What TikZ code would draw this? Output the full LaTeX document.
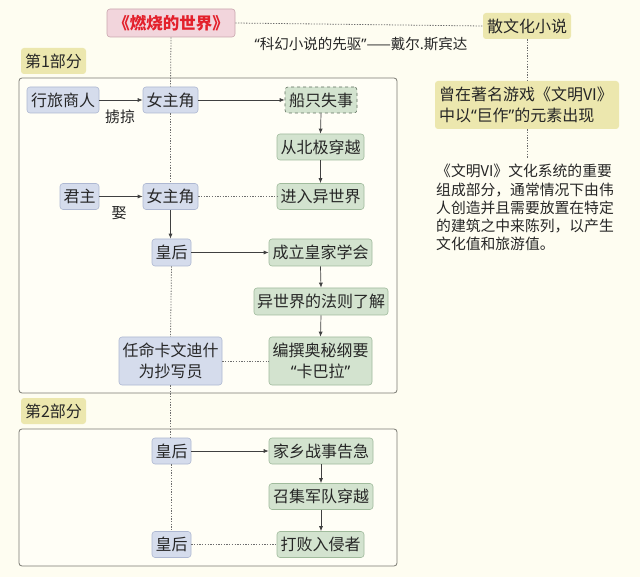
\documentclass[tikz,border=0pt]{standalone}
\usepackage{fontspec}
\setmainfont{Noto Sans CJK SC}
\newfontfamily\latinq{Noto Sans}
\newcommand{\myLq}{{\latinq “}}
\newcommand{\myRq}{{\latinq ”}}
\usetikzlibrary{arrows.meta}
\definecolor{bg}{HTML}{FEFDF1}
\definecolor{framef}{HTML}{FFFEF6}
\definecolor{framec}{HTML}{7A7A72}
\definecolor{bluef}{HTML}{D5DCEC}
\definecolor{blueb}{HTML}{AEB8D2}
\definecolor{greenf}{HTML}{D3E3CF}
\definecolor{greenb}{HTML}{A0BB9C}
\definecolor{khakif}{HTML}{ECE7AE}
\definecolor{pinkf}{HTML}{F2D5DC}
\definecolor{pinkb}{HTML}{C9A6AE}
\definecolor{titlered}{HTML}{E3202B}
\definecolor{txt}{HTML}{262626}
\definecolor{linec}{HTML}{404040}
\definecolor{dotc}{HTML}{6E6E6E}
\begin{document}
\begin{tikzpicture}[x=1pt,y=-1pt,
  base/.style={rounded corners=3pt, inner xsep=3pt, inner ysep=2pt, minimum height=26pt,
    font=\fontsize{16}{21}\selectfont, text=txt, line width=0.6pt, align=center},
  bluebox/.style={base, fill=bluef, draw=blueb},
  greenbox/.style={base, fill=greenf, draw=greenb},
  khakibox/.style={base, fill=khakif, draw=none},
  lbl/.style={font=\fontsize{15}{17}\selectfont, text=txt, inner sep=0pt},
  arr/.style={-{Latex[length=5pt,width=4pt]}, draw=linec, line width=0.7pt},
  dotline/.style={draw=dotc, line width=0.8pt, dash pattern=on 1.3pt off 1.4pt},
  framebox/.style={draw=framec, fill=framef, rounded corners=3pt, line width=0.8pt}]

\fill[bg] (0,0) rectangle (640,577);
\useasboundingbox (0,0) rectangle (640,577);

% frames
\draw[framebox] (19,78) rectangle (397,393);
\draw[framebox] (19,429) rectangle (397,566);

% top
\node[base, fill=pinkf, draw=pinkb, text=titlered, minimum width=128pt, minimum height=28pt,
  font=\fontsize{16.5}{18}\selectfont\bfseries] (title) at (171,23) {《燃烧的世界》};
\node[khakibox, minimum width=88pt] (sanwen) at (527,26) {散文化小说};
\node[lbl, font=\fontsize{14.5}{17}\selectfont] (quote) at (361,44) {\myLq 科幻小说的先驱\myRq{}——戴尔.斯宾达};
\node[khakibox, minimum width=65pt] (part1) at (53.5,61) {第1部分};
\node[khakibox, minimum width=65pt] (part2) at (53.5,411) {第2部分};

\node[khakibox, minimum width=184pt, minimum height=48pt, align=left, text width=176pt, inner xsep=4pt]
  (zengzai) at (527,105) {曾在著名游戏《文明VI》\\中以\myLq 巨作\myRq{}的元素出现};
\node[text=txt, font=\fontsize{14.8}{18.3}\selectfont, align=left, inner sep=0pt, anchor=north west]
  (para) at (436,164) {《文明VI》文化系统的重要\\组成部分，通常情况下由伟\\人创造并且需要放置在特定\\的建筑之中来陈列，以产生\\文化值和旅游值。};

% part 1 nodes
\node[bluebox, minimum width=72pt] (xinglv) at (63,100) {行旅商人};
\node[bluebox, minimum width=55pt] (nv1) at (170.5,100) {女主角};
\node[greenbox, draw=greenb!60!black, dashed, minimum width=72pt] (chuan) at (321,100) {船只失事};
\node[greenbox, minimum width=87pt] (beiji) at (320.5,147) {从北极穿越};
\node[bluebox, minimum width=39pt] (junzhu) at (79.5,196.5) {君主};
\node[bluebox, minimum width=55pt] (nv2) at (170.5,196.5) {女主角};
\node[greenbox, minimum width=87pt] (jinru) at (320.5,196.5) {进入异世界};
\node[bluebox, minimum width=39pt, minimum height=27pt] (hh1) at (171.5,252.5) {皇后};
\node[greenbox, minimum width=103pt, minimum height=27pt] (chengli) at (320.5,252.5) {成立皇家学会};
\node[greenbox, minimum width=134pt, minimum height=27pt] (fali) at (321,301.5) {异世界的法则了解};
\node[bluebox, minimum width=103pt, minimum height=48pt] (renming) at (170.5,361) {任命卡文迪什\\为抄写员};
\node[greenbox, minimum width=103pt, minimum height=48pt] (bianzhuan) at (320.5,361) {编撰奥秘纲要\\\myLq 卡巴拉\myRq};

% part 2 nodes
\node[bluebox, minimum width=39pt] (hh2) at (171.5,451) {皇后};
\node[greenbox, minimum width=104pt] (jiaxiang) at (321,451) {家乡战事告急};
\node[greenbox, minimum width=104pt] (zhaoji) at (321,496.5) {召集军队穿越};
\node[bluebox, minimum width=39pt] (hh3) at (171.5,544.5) {皇后};
\node[greenbox, minimum width=87pt] (dabai) at (320.5,544.5) {打败入侵者};

% labels
\node[lbl] (lve) at (120,117) {掳掠};
\node[lbl] (qu) at (119,213) {娶};

% dotted connectors
\draw[dotline] (title.east) -- (sanwen.west);
\draw[dotline] (sanwen.south) -- (zengzai.north);
\draw[dotline] (zengzai.south) -- (527,158);
\draw[dotline] (title.south) -- (nv1.north);
\draw[dotline] (nv1.south) -- (nv2.north);
\draw[dotline] (hh1.south) -- (renming.north);
\draw[dotline] (renming.south) -- (hh2.north -| renming.south);
\draw[dotline] (hh2.south) -- (hh3.north);
\draw[dotline] (nv2.east) -- (jinru.west);
\draw[dotline] (renming.east) -- (bianzhuan.west);
\draw[dotline] (hh3.east) -- (dabai.west);

% arrows
\draw[arr] (xinglv.east) -- (nv1.west);
\draw[arr] (nv1.east) -- (chuan.west);
\draw[arr] (chuan.south) -- (beiji.north);
\draw[arr] (beiji.south) -- (jinru.north);
\draw[arr] (junzhu.east) -- (nv2.west);
\draw[arr] (nv2.south) -- (hh1.north -| nv2.south);
\draw[arr] (hh1.east) -- (chengli.west);
\draw[arr] (chengli.south) -- (fali.north);
\draw[arr] (fali.south) -- (bianzhuan.north);
\draw[arr] (hh2.east) -- (jiaxiang.west);
\draw[arr] (jiaxiang.south) -- (zhaoji.north);
\draw[arr] (zhaoji.south) -- (dabai.north -| zhaoji.south);
\end{tikzpicture}
\end{document}
